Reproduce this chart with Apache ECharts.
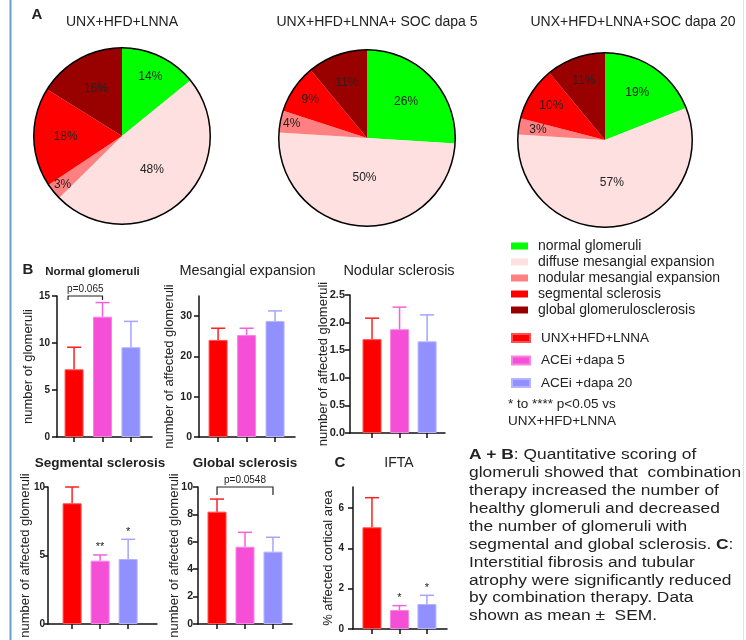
<!DOCTYPE html>
<html><head><meta charset="utf-8">
<script src="https://cdn.jsdelivr.net/npm/echarts@6/dist/echarts.min.js"></script>
<style>html,body{margin:0;padding:0;background:#fff}#c{width:746px;height:640px}</style>
</head><body><div id="c"></div><script>
// ---------- data ----------
const groups = ['UNX+HFD+LNNA', 'ACEi +dapa 5', 'ACEi +dapa 20'];
const pieCategories = ['normal glomeruli', 'diffuse mesangial expansion', 'nodular mesangial expansion', 'segmental sclerosis', 'global glomerulosclerosis'];
const pieTitles = ['UNX+HFD+LNNA', 'UNX+HFD+LNNA+ SOC dapa 5', 'UNX+HFD+LNNA+SOC dapa 20'];
const pieLnna = [14, 48, 3, 18, 16];
const pieDapa5 = [26, 50, 4, 9, 11];
const pieDapa20 = [19, 57, 3, 10, 11];

const panelTitles = ['Normal glomeruli', 'Mesangial expansion', 'Nodular sclerosis', 'Segmental sclerosis', 'Global sclerosis', 'IFTA'];
const yNames = ['number of glomeruli', 'number of affected glomeruli', 'number of affected glomeruli', 'number of affected glomeruli', 'number of affected glomeruli', '% affected cortical area'];

const normalMean = [7.2, 12.8, 9.55];
const normalSem = [2.35, 1.5, 2.75];
const mesangialMean = [24.1, 25.3, 28.8];
const mesangialSem = [2.9, 1.7, 2.5];
const nodularMean = [1.70, 1.88, 1.66];
const nodularSem = [0.38, 0.40, 0.48];
const segmentalMean = [8.81, 4.62, 4.74];
const segmentalSem = [1.19, 0.42, 1.44];
const globalMean = [8.2, 5.64, 5.28];
const globalSem = [0.92, 1.05, 1.05];
const iftaMean = [5.04, 0.94, 1.24];
const iftaSem = [1.47, 0.22, 0.43];

const segmentalStars = ['', '**', '*'];
const iftaStars = ['', '*', '*'];
const normalBracket = [[0, 1, 15]];
const normalBracketLabel = ['p=0.065'];
const globalBracket = [[0, 2, 10]];
const globalBracketLabel = ['p=0.0548'];

const yTicks1 = [0, 5, 10, 15];
const yTicks2 = [0, 10, 20, 30];
const yTicks3 = [0, 0.5, 1, 1.5, 2, 2.5];
const yTicks4 = [0, 5, 10];
const yTicks5 = [0, 2, 4, 6, 8, 10];
const yTicks6 = [0, 2, 4, 6];

const captionLines = [
  '{b|A + B}: Quantitative scoring of',
  'glomeruli showed that  combination',
  'therapy increased the number of',
  'healthy glomeruli and decreased',
  'the number of glomeruli with',
  'segmental and global sclerosis. {b|C}:',
  'Interstitial fibrosis and tubular',
  'atrophy were significantly reduced',
  'by combination therapy. Data',
  'shown as mean \u00B1  SEM.'
];
const noteLines = ['* to **** p<0.05 vs', 'UNX+HFD+LNNA'];

// ---------- styles / layout ----------
const FONT = '"Liberation Sans", Arial, sans-serif';
const TXT = '#222';
const pieColors = ['#00FF00', '#FFE0E0', '#FF8080', '#FF0000', '#990000'];
const barColors = ['#FF0000', '#F54FD7', '#9090FF'];
const barBorders = ['#FF5050', '#F884E2', '#B4B4FF'];
const errColors = ['#FF2020', '#F55FDA', '#A4A4FF'];

const pieLayout = [
  {c: [122, 136], r: 88, lab: [0.75, 0.51, 0.87, 0.64, 0.61], tx: 122},
  {c: [367, 138], r: 88, lab: [0.61, 0.45, 0.87, 0.78, 0.67], tx: 377},
  {c: [605, 140], r: 87, lab: [0.66, 0.50, 0.78, 0.73, 0.72], tx: 633}
];
const panelLayout = [
  {left: 57, top: 296, width: 95, height: 141, xMin: -0.6, xMax: 2.74, yMax: 15, nameGap: 22, lm: 7, ls: 10, tl: 5, tX: 92.5, tY: 272, tFont: 'bold 11.5px'},
  {left: 199, top: 296, width: 96, height: 141, xMin: -0.67, xMax: 2.7, yMax: 35, nameGap: 23, lm: 7, ls: 10.5, tl: 5, tX: 247.5, tY: 271, tFont: '14.5px'},
  {left: 350, top: 295, width: 95, height: 138, xMin: -0.8, xMax: 2.65, yMax: 2.5, nameGap: 20, lm: 5, ls: 11, tl: 5, tX: 399, tY: 271, tFont: '14.5px'},
  {left: 48, top: 487, width: 109, height: 137, xMin: -0.86, xMax: 3.03, yMax: 10, nameGap: 16, lm: 3, ls: 10, tl: 4, tX: 100, tY: 463, tFont: 'bold 13.5px'},
  {left: 198, top: 487, width: 94, height: 137, xMin: -0.68, xMax: 2.68, yMax: 10, nameGap: 17, lm: 5, ls: 10.5, tl: 5, tX: 245, tY: 463, tFont: 'bold 13.5px'},
  {left: 353, top: 487, width: 94, height: 142, xMin: -0.69, xMax: 2.73, yMax: 7.04, nameGap: 18, lm: 9, ls: 10, tl: 5, tX: 399, tY: 463, tFont: '14px'}
];

const pieData = [pieLnna, pieDapa5, pieDapa20];
const means = [normalMean, mesangialMean, nodularMean, segmentalMean, globalMean, iftaMean];
const sems = [normalSem, mesangialSem, nodularSem, segmentalSem, globalSem, iftaSem];
const stars = [null, null, null, segmentalStars, null, iftaStars];
const yTicks = [yTicks1, yTicks2, yTicks3, yTicks4, yTicks5, yTicks6];
const brackets = [
  {k: 0, data: normalBracket, labels: normalBracketLabel, tip: 4, shiftA: -6},
  {k: 4, data: globalBracket, labels: globalBracketLabel, tip: 8, shiftA: 0}
];

const series = [];
// pies
pieData.forEach((vals, k) => {
  const L = pieLayout[k];
  series.push({
    type: 'pie', name: 'pie' + k, center: L.c, radius: [0, L.r], startAngle: 90, clockwise: true,
    avoidLabelOverlap: false, silent: true, animation: false,
    data: vals.map((v, i) => ({name: pieCategories[i], value: v, itemStyle: {color: pieColors[i]}})),
    itemStyle: {borderWidth: 0},
    label: {show: true, position: 'inside', formatter: '{c}%', fontSize: 12, color: TXT, fontFamily: FONT},
    labelLine: {show: false},
    emphasis: {disabled: true},
    labelLayout: function (p) {
      const lx = p.labelRect.x + p.labelRect.width / 2;
      const ly = p.labelRect.y + p.labelRect.height / 2;
      const dx0 = lx - L.c[0], dy0 = ly - L.c[1];
      const d = Math.sqrt(dx0 * dx0 + dy0 * dy0) || 1;
      const s = (L.lab[p.dataIndex] * L.r) / d - 1;
      return {dx: dx0 * s, dy: dy0 * s};
    }
  });
  series.push({
    type: 'pie', center: L.c, radius: [L.r - 0.5, L.r + 1], silent: true, animation: false,
    data: [{value: 1, itemStyle: {color: '#000'}}], label: {show: false}, labelLine: {show: false},
    emphasis: {disabled: true}
  });
});

// bars + error bars
means.forEach((m, k) => {
  groups.forEach((g, gi) => {
    series.push({
      type: 'bar', name: g, xAxisIndex: k, yAxisIndex: k, stack: 'p' + k, barWidth: 19,
      data: [[gi, m[gi]]], silent: true,
      itemStyle: {color: barColors[gi], borderColor: barBorders[gi], borderWidth: 1},
      emphasis: {disabled: true}, z: 2
    });
  });
  const st = stars[k];
  series.push({
    type: 'custom', xAxisIndex: k, yAxisIndex: k, silent: true, z: 3,
    data: m.map((v, gi) => [gi, v, sems[k][gi]]),
    renderItem: function (params, api) {
      const gi = params.dataIndex;
      const x = api.value(0), v = api.value(1), s = api.value(2);
      const p0 = api.coord([x, v]), p1 = api.coord([x, v + s]);
      const c = errColors[gi];
      const ch = [
        {type: 'line', shape: {x1: p0[0], y1: p0[1], x2: p1[0], y2: p1[1]}, style: {stroke: c, lineWidth: 1.5}},
        {type: 'line', shape: {x1: p1[0] - 7, y1: p1[1], x2: p1[0] + 7, y2: p1[1]}, style: {stroke: c, lineWidth: 1.5}}
      ];
      if (st && st[gi]) {
        ch.push({type: 'text', x: p1[0], y: p1[1] - 2, style: {text: st[gi], fontSize: 11, fontFamily: FONT, fill: TXT, align: 'center', verticalAlign: 'bottom'}});
      }
      return {type: 'group', children: ch};
    }
  });
});

// brackets
brackets.forEach(b => {
  series.push({
    type: 'custom', xAxisIndex: b.k, yAxisIndex: b.k, silent: true, z: 3,
    data: b.data,
    renderItem: function (params, api) {
      const pa = api.coord([api.value(0), api.value(2)]);
      const pb = api.coord([api.value(1), api.value(2)]);
      const ax = pa[0] + b.shiftA;
      return {type: 'group', children: [
        {type: 'polyline', shape: {points: [[ax, pa[1] + b.tip], [ax, pa[1]], [pb[0], pb[1]], [pb[0], pb[1] + b.tip]]}, style: {stroke: '#222', lineWidth: 1.2, fill: null}},
        {type: 'text', x: (ax + pb[0]) / 2, y: pa[1] - 7, style: {text: b.labels[params.dataIndex], fontSize: 10, fontFamily: FONT, fill: TXT, align: 'center', verticalAlign: 'middle'}}
      ]};
    }
  });
});

const axisLineStyle = {color: '#111', width: 1.5};
const graphics = [
  {type: 'line', shape: {x1: 10.5, y1: 0, x2: 10.5, y2: 640}, style: {stroke: '#6B9BD1', lineWidth: 2}},
  {type: 'line', shape: {x1: 743.5, y1: 0, x2: 743.5, y2: 640}, style: {stroke: '#DDE3EA', lineWidth: 1}},
  {type: 'text', x: 37, y: 15, style: {text: 'A', font: 'bold 15px ' + FONT, fill: TXT, align: 'center', verticalAlign: 'middle'}},
  {type: 'text', x: 28, y: 270, style: {text: 'B', font: 'bold 15px ' + FONT, fill: TXT, align: 'center', verticalAlign: 'middle'}},
  {type: 'text', x: 340, y: 463, style: {text: 'C', font: 'bold 15px ' + FONT, fill: TXT, align: 'center', verticalAlign: 'middle'}},
  {type: 'text', x: 508, y: 395.5, style: {text: noteLines.join('\n'), font: '13.5px ' + FONT, lineHeight: 17, fill: TXT, align: 'left', verticalAlign: 'top'}},
  {type: 'text', x: 469, y: 446, scaleX: 1.12, originX: 0, originY: 0, style: {
    text: captionLines.join('\n'), font: '15.5px ' + FONT, fontSize: 15.5, fontFamily: FONT, lineHeight: 17.9, fill: TXT, align: 'left', verticalAlign: 'top',
    rich: {b: {fontWeight: 'bold', fontSize: 15.5, fontFamily: FONT, lineHeight: 17.9, fill: TXT}}
  }}
];
pieTitles.forEach((t, k) => graphics.push({type: 'text', x: pieLayout[k].tx, y: 22, style: {text: t, font: '14px ' + FONT, fill: TXT, align: 'center', verticalAlign: 'middle'}}));
panelTitles.forEach((t, k) => graphics.push({type: 'text', x: panelLayout[k].tX, y: panelLayout[k].tY, style: {text: t, font: panelLayout[k].tFont + ' ' + FONT, fill: TXT, align: 'center', verticalAlign: 'middle'}}));

const option = {
  animation: false,
  backgroundColor: '#fff',
  textStyle: {fontFamily: FONT},
  legend: [
    {data: pieCategories, orient: 'vertical', left: 506, top: 233, icon: 'rect', itemWidth: 17, itemHeight: 7, itemGap: 0,
      selectedMode: false, textStyle: {fontSize: 14, color: TXT, lineHeight: 16, padding: [0, 0, 0, 5]}},
    {data: groups, orient: 'vertical', left: 506, top: 325, icon: 'rect', itemWidth: 18, itemHeight: 8, itemGap: 6.5,
      selectedMode: false, textStyle: {fontSize: 13.5, color: TXT, lineHeight: 16, padding: [0, 0, 0, 6]}}
  ],
  grid: panelLayout.map(c => ({left: c.left, top: c.top, width: c.width, height: c.height})),
  xAxis: panelLayout.map((c, k) => ({
    gridIndex: k, type: 'value', min: c.xMin, max: c.xMax,
    axisLine: {show: true, onZero: false, lineStyle: axisLineStyle},
    axisTick: {show: true, customValues: [0, 1, 2], length: 5, lineStyle: axisLineStyle},
    axisLabel: {show: false}, splitLine: {show: false}
  })),
  yAxis: panelLayout.map((c, k) => ({
    gridIndex: k, type: 'value', min: 0, max: c.yMax,
    name: yNames[k], nameLocation: 'middle', nameGap: c.nameGap, nameMoveOverlap: false,
    nameTextStyle: {fontSize: 13, color: TXT, fontFamily: FONT},
    axisLine: {show: true, onZero: false, lineStyle: axisLineStyle},
    axisTick: {show: true, customValues: yTicks[k], length: c.tl, lineStyle: axisLineStyle},
    axisLabel: {show: true, customValues: yTicks[k], fontSize: c.ls, fontWeight: 'bold', color: TXT, margin: c.lm,
      formatter: k === 2 ? (v => Number(v).toFixed(1)) : (v => String(v))},
    splitLine: {show: false}
  })),
  series: series,
  graphic: graphics
};
const chart = echarts.init(document.getElementById('c'), null, {renderer: 'canvas'});
chart.setOption(option);
</script></body></html>
